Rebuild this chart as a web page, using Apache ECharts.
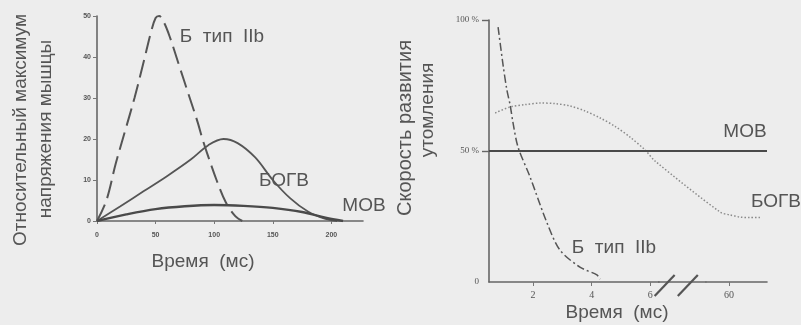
<!DOCTYPE html>
<html>
<head>
<meta charset="utf-8">
<script src="https://cdn.jsdelivr.net/npm/echarts@6/dist/echarts.min.js"></script>
<style>
  html, body { margin: 0; padding: 0; background: #ededed; }
  #chart { width: 801px; height: 325px; }
</style>
</head>
<body>
<div id="chart"></div>
<script>
// ---- Left panel: relative peak muscle tension vs time (ms) ----
const leftTimeTicks = [0, 50, 100, 150, 200];
const leftFastIIb = [[0, 0], [8, 5], [16, 14], [24, 22], [32, 30], [40, 39], [46, 46], [50, 49.5],
  [53, 50], [57, 48.5], [62, 45], [70, 38], [78, 31], [86, 24], [90, 20], [94, 16.5],
  [102, 10], [110, 4.5], [118, 1.2], [124, 0]];
const leftFOG = [[0, 0], [20, 3.6], [40, 7.3], [60, 11], [80, 15], [95, 18.5], [108, 20],
  [120, 19], [135, 15.5], [150, 10], [165, 5.5], [180, 2.3], [195, 0.5], [205, 0]];
const leftSO = [[0, 0], [25, 1.6], [50, 2.9], [75, 3.6], [100, 3.9], [125, 3.7], [150, 3.2],
  [175, 2.2], [195, 0.8], [210, 0]];

// ---- Right panel: rate of fatigue development vs time (broken axis) ----
const rightTimeTicks = [2, 4, 6, 60];
const rightFastIIb = [[0.81, 97.3], [0.98, 82.8], [1.11, 73.3], [1.22, 67.6], [1.32, 60.7],
  [1.49, 51.5], [1.9, 40.1], [2.48, 22.5], [2.92, 12.2], [3.6, 5.7], [4.18, 2.7], [4.29, 1.1]];
const rightFOG = [[0.71, 64.5], [1.22, 66.8], [1.73, 67.7], [2.24, 68.3], [2.75, 68.1],
  [3.26, 67.2], [3.77, 65.3], [4.29, 62.6], [4.8, 59.4], [5.31, 55.3], [5.82, 50.4], [6.16, 46.2],
  [59.7, 26.7], [60.04, 25.6], [60.38, 24.8], [60.72, 24.6], [61.06, 24.6]];
const rightSO = [[0.5, 50], [61.3, 50]];

const ink = '#555';
const sans = '"Liberation Sans", Arial, sans-serif';
const serif = '"Liberation Serif", "Times New Roman", serif';

const chart = echarts.init(document.getElementById('chart'), null, { renderer: 'canvas' });

function txt(text, x, y, size, rot) {
  return {
    type: 'text', x: x, y: y, rotation: rot || 0, z: 10,
    style: { text: text, font: size + 'px ' + sans, fill: ink, align: 'center', verticalAlign: 'middle' }
  };
}

function curve(name, xi, data, style, smooth) {
  return {
    name: name, type: 'line', xAxisIndex: xi, yAxisIndex: xi, data: data,
    smooth: smooth, showSymbol: false, lineStyle: style
  };
}

const option = {
  backgroundColor: '#ededed',
  animation: false,
  grid: [
    { left: 97, top: 16, width: 266, height: 205 },
    { left: 489, top: 20, width: 278, height: 262 }
  ],
  xAxis: [
    {
      type: 'value', gridIndex: 0, min: 0, max: 227,
      axisLine: { lineStyle: { color: '#666', width: 1.6 } },
      axisTick: { customValues: leftTimeTicks, length: 3, lineStyle: { color: '#777' } },
      axisLabel: { customValues: leftTimeTicks, fontSize: 7, fontWeight: 'bold', color: ink, margin: 11, fontFamily: sans },
      splitLine: { show: false }
    },
    {
      type: 'value', gridIndex: 1, min: 0.5, max: 61.3,
      breaks: [{ start: 6.3, end: 59.2, gap: 1.58 }],
      breakArea: { show: false },
      axisLine: { lineStyle: { color: '#666', width: 1.6 } },
      axisTick: { customValues: rightTimeTicks, length: 4, lineStyle: { color: '#777' } },
      axisLabel: { customValues: rightTimeTicks, fontSize: 10, color: ink, margin: 8, fontFamily: serif },
      splitLine: { show: false }
    }
  ],
  yAxis: [
    {
      type: 'value', gridIndex: 0, min: 0, max: 50, interval: 10,
      axisLine: { show: true, lineStyle: { color: '#666', width: 1.6 } },
      axisTick: { show: true, length: 4, lineStyle: { color: '#777' } },
      axisLabel: { fontSize: 7, fontWeight: 'bold', color: ink, margin: 6, fontFamily: sans },
      splitLine: { show: false }
    },
    {
      type: 'value', gridIndex: 1, min: 0, max: 100, interval: 50,
      axisLine: { show: true, lineStyle: { color: '#666', width: 1.6 } },
      axisTick: { show: true, customValues: [50, 100], length: 7, lineStyle: { color: '#666', width: 1.4 } },
      axisLabel: {
        fontSize: 9, color: ink, margin: 10, fontFamily: serif,
        formatter: function (v) { return v === 0 ? '0' : v + ' %'; }
      },
      splitLine: { show: false }
    }
  ],
  series: [
    curve('Б тип IIb', 0, leftFastIIb, { color: ink, width: 2, type: [18, 7] }, 0.35),
    curve('БОГВ', 0, leftFOG, { color: ink, width: 1.8 }, 0.35),
    curve('МОВ', 0, leftSO, { color: '#4a4a4a', width: 2.4 }, 0.35),
    curve('Б тип IIb (утомление)', 1, rightFastIIb, { color: ink, width: 1.5, type: [8, 3, 2, 3] }, 0.3),
    curve('БОГВ (утомление)', 1, rightFOG, { color: '#8a8a8a', width: 1.5, type: [1.5, 2] }, 0.3),
    curve('МОВ (утомление)', 1, rightSO, { color: '#4a4a4a', width: 2 }, 0)
  ],
  graphic: [
    txt('Относительный максимум', 21, 130, 19, Math.PI / 2),
    txt('напряжения мышцы', 46, 129, 19, Math.PI / 2),
    txt('Время  (мс)', 203, 262, 19),
    txt('Б  тип  IIb', 222, 37, 19),
    txt('БОГВ', 284, 181, 19),
    txt('МОВ', 364, 206, 19),
    txt('Скорость развития', 405, 128, 20, Math.PI / 2),
    txt('утомления', 428, 110, 19, Math.PI / 2),
    txt('Время  (мс)', 617, 313, 19),
    txt('МОВ', 745, 132, 19),
    txt('БОГВ', 776, 202, 19),
    txt('Б  тип  IIb', 614, 248, 19)
  ]
};

chart.setOption(option);

// Keep the time axis line continuous through the break, then add two break slashes.
const p0 = chart.convertToPixel({ xAxisIndex: 1, yAxisIndex: 1 }, [6.3, 0]);
const p1 = chart.convertToPixel({ xAxisIndex: 1, yAxisIndex: 1 }, [59.2, 0]);
if (p0 && p1) {
  const gap = p1[0] - p0[0];
  const extra = [{
    type: 'line', z: 19,
    shape: { x1: p0[0] - 1, y1: p0[1], x2: p1[0] + 1, y2: p0[1] },
    style: { stroke: '#666', lineWidth: 1.6 }
  }];
  [p0[0] + gap * 0.12, p0[0] + gap * 0.62].forEach(function (x) {
    extra.push({
      type: 'line', z: 20,
      shape: { x1: x - 10, y1: p0[1] + 14, x2: x + 10, y2: p0[1] - 7 },
      style: { stroke: '#555', lineWidth: 2.2 }
    });
  });
  chart.setOption({ graphic: option.graphic.concat(extra) });
}
</script>
</body>
</html>
